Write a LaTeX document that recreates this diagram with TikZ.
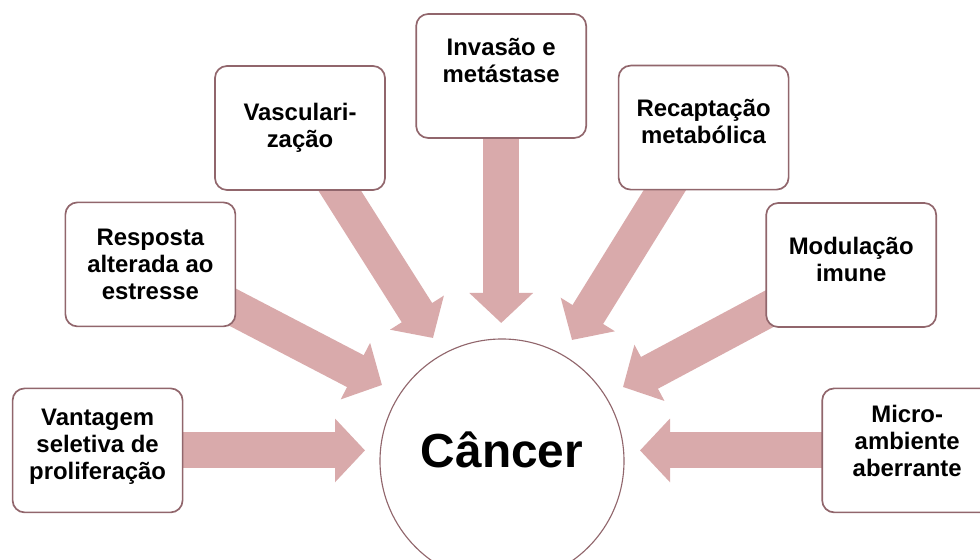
\documentclass[tikz,border=0pt]{standalone}
\usepackage{fontspec}
\setmainfont{Liberation Sans}
\usetikzlibrary{arrows.meta,backgrounds}
\definecolor{boxedge}{RGB}{145,102,108}
\definecolor{arrowpink}{RGB}{217,170,171}

\begin{document}
\begin{tikzpicture}[
    box/.style={
        draw=boxedge,
        line width=1.2pt,
        rounded corners=0.3cm,
        fill=white,
        minimum width=4.25cm,
        minimum height=3.1cm,
        align=center,
        font=\bfseries\fontsize{17}{19.2}\selectfont
    },
    hub/.style={
        circle,
        draw=boxedge,
        line width=0.8pt,
        fill=white,
        minimum size=6.1cm,
        font=\bfseries\fontsize{34}{40}\selectfont
    },
    arr/.style={
        -{Triangle[length=7.5mm, width=15.5mm]},
        line width=9mm,
        draw=arrowpink
    }
]

\useasboundingbox (0,0) rectangle (24.5,14);

% ============================================================
% Centre
% ============================================================

\node[hub, text depth=0.55cm] (cancer) at (12.55,2.475)
{Câncer};

% ============================================================
% Surrounding boxes
% ============================================================

\node[box, text depth=0.3cm] (vantagem) at (2.44,2.74)
{Vantagem\\seletiva de\\proliferação};

\node[box] (resposta) at (3.76,7.39)
{Resposta\\alterada ao\\estresse};

\node[box] (vascular) at (7.5,10.8)
{Vasculari-\\zação};

\node[box, text depth=0.8cm] (invasao) at (12.53,12.1)
{Invasão e\\metástase};

\node[box, text depth=0.3cm] (recaptacao) at (17.59,10.81)
{Recaptação\\metabólica};

\node[box, text depth=0.3cm] (modulacao) at (21.28,7.375)
{Modulação\\imune};

\node[box, text depth=0.5cm] (micro) at (22.68,2.74)
{Micro-\\ambiente\\aberrante};

% ============================================================
% Arrows into the centre
% ============================================================

\coordinate (tvantagem) at (9.125,2.74);
\coordinate (tresposta) at (9.55,4.375);
\coordinate (tvascular) at (10.825,5.55);
\coordinate (tinvasao) at (12.53,5.925);
\coordinate (trecaptacao) at (14.3,5.5);
\coordinate (tmodulacao) at (15.575,4.325);
\coordinate (tmicro) at (16.0,2.74);

\begin{scope}[on background layer]
\draw[arr] (vantagem.center) -- (tvantagem);
\draw[arr] (resposta.center) -- (tresposta);
\draw[arr] (vascular.center) -- (tvascular);
\draw[arr] (invasao.center) -- (tinvasao);
\draw[arr] (recaptacao.center) -- (trecaptacao);
\draw[arr] (modulacao.center) -- (tmodulacao);
\draw[arr] (micro.center) -- (tmicro);
\end{scope}

\end{tikzpicture}
\end{document}
